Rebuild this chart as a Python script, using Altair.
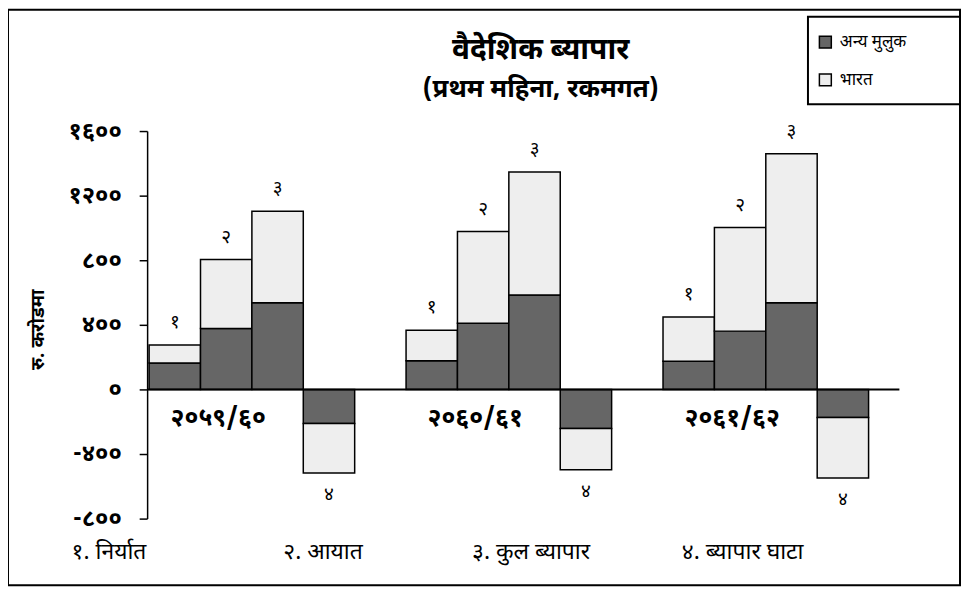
import altair as alt
import pandas as pd

FONT = "Noto Sans Devanagari, Lohit Devanagari, FreeSans, Noto Sans, sans-serif"

# ---- data (Rs. crore, first month) ----
groups = ["२०५९/६०", "२०६०/६१", "२०६१/६२"]
items = ["१", "२", "३", "४"]          # 1 export, 2 import, 3 total trade, 4 trade deficit
series = ["अन्य मुलुक", "भारत"]
others = [[164, 378, 537, -211],
          [178, 410, 584, -242],
          [175, 361, 537, -174]]
india = [[111, 426, 566, -307],
         [189, 568, 763, -256],
         [274, 642, 923, -375]]
tick_values = [-800, -400, 0, 400, 800, 1200, 1600]
tick_labels = ["-८००", "-४००", "०", "४००", "८००", "१२००", "१६००"]
footnotes = ["१. निर्यात", "२. आयात", "३. कुल ब्यापार", "४. ब्यापार घाटा"]

rows, tops = [], []
for gi, g in enumerate(groups):
    for ii, it in enumerate(items):
        o = others[gi][ii]
        ind = india[gi][ii]
        rows.append(dict(group=g, item=it, series=series[0], y0=0, y1=o))
        rows.append(dict(group=g, item=it, series=series[1], y0=o, y1=o + ind))
        tops.append(dict(group=g, item=it, top=o + ind))
bars_df = pd.DataFrame(rows)
tops_df = pd.DataFrame(tops)
grp_df = pd.DataFrame(dict(group=groups, item=[items[1]] * 3))

label_expr = ""
for v, l in zip(tick_values, tick_labels):
    label_expr += f"datum.value == {v} ? '{l}' : "
label_expr += "''"

xs = alt.X("group:N", sort=groups, axis=None,
           scale=alt.Scale(range=[142, 866], paddingInner=0.2, paddingOuter=0))
xo = alt.XOffset("item:N", sort=items, scale=alt.Scale(paddingInner=0, paddingOuter=0))
ys = alt.Scale(domain=[-800, 1600], range=[512, 122], nice=False, zero=False)

legend_box = alt.Chart(pd.DataFrame({"k": [0]})).mark_rect(
    fill="white", stroke="black", strokeWidth=2).encode(
    x=alt.value(805), x2=alt.value(958), y=alt.value(7), y2=alt.value(95))

bars = alt.Chart(bars_df).mark_bar(stroke="black", strokeWidth=1.5).encode(
    x=xs, xOffset=xo,
    y=alt.Y("y0:Q", scale=ys, title=None,
            axis=alt.Axis(values=tick_values, labelExpr=label_expr, offset=-140,
                          domainColor="black", domainWidth=1.5, tickColor="black",
                          tickWidth=1.5, tickSize=8, labelPadding=18, labelFontSize=24,
                          labelFontWeight="bold", labelColor="black", labelFont=FONT,
                          grid=False)),
    y2="y1:Q",
    fill=alt.Fill("series:N", sort=series,
                  scale=alt.Scale(domain=series, range=["#666666", "#eeeeee"]),
                  legend=alt.Legend(title=None, orient="none", legendX=814, legendY=24,
                                    symbolType="square", symbolSize=144,
                                    symbolStrokeColor="black", symbolStrokeWidth=1.5,
                                    labelFontSize=17, labelFont=FONT, labelColor="black",
                                    padding=0, rowPadding=19, labelOffset=6,
                                    strokeColor="transparent", fillColor="transparent")),
)

zero = alt.Chart(pd.DataFrame({"v": [0]})).mark_rule(color="black", strokeWidth=2).encode(
    y=alt.Y("v:Q", scale=ys), x=alt.value(140), x2=alt.value(897))

num_pos = alt.Chart(tops_df).transform_filter("datum.top >= 0").mark_text(
    baseline="bottom", dy=-13, fontSize=19, font=FONT, color="black").encode(
    x=xs, xOffset=xo, y=alt.Y("top:Q", scale=ys), text="item:N")
num_neg = alt.Chart(tops_df).transform_filter("datum.top < 0").mark_text(
    baseline="top", dy=12, fontSize=19, font=FONT, color="black").encode(
    x=xs, xOffset=xo, y=alt.Y("top:Q", scale=ys), text="item:N")

grp_lab = alt.Chart(grp_df).transform_calculate(z="0").mark_text(
    baseline="middle", dy=29, dx=-8, fontSize=25, fontWeight="bold", font=FONT,
    color="black").encode(x=xs, xOffset=xo, y=alt.Y("z:Q", scale=ys), text="group:N")

title = alt.Chart(pd.DataFrame({"t": ["वैदेशिक ब्यापार"]})).mark_text(
    fontSize=30, fontWeight="bold", font=FONT, color="black").encode(
    x=alt.value(536), y=alt.value(40), text="t:N")
subtitle = alt.Chart(pd.DataFrame({"t": ["(प्रथम महिना, रकमगत)"]})).mark_text(
    fontSize=26, fontWeight="bold", font=FONT, color="black").encode(
    x=alt.value(536), y=alt.value(80), text="t:N")
ytitle = alt.Chart(pd.DataFrame({"t": ["रु. करोडमा"]})).mark_text(
    fontSize=19, fontWeight="bold", font=FONT, color="black", angle=270).encode(
    x=alt.value(30), y=alt.value(322), text="t:N")

foot_layers = []
for txt, px in zip(footnotes, [64, 277, 467, 678]):
    foot_layers.append(alt.Chart(pd.DataFrame({"t": [txt]})).mark_text(
        fontSize=23, font=FONT, color="black", align="left").encode(
        x=alt.value(px), y=alt.value(546), text="t:N"))

chart = alt.layer(legend_box, bars, zero, num_pos, num_neg, grp_lab, title, subtitle,
                  ytitle, *foot_layers).properties(
    width=958, height=579, padding=0, background="white"
).configure_view(stroke="black", strokeWidth=2)

chart.save("out.html", embed_options={"renderer": "svg", "actions": False})
